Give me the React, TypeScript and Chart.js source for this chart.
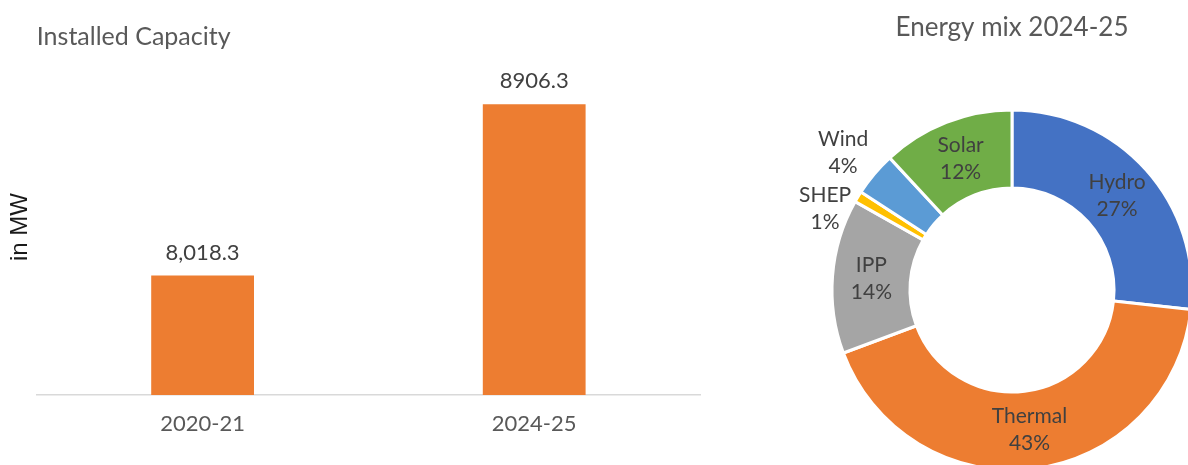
import { useEffect, useRef } from "react"
import { Chart, registerables, type ChartConfiguration, type Plugin } from "chart.js"

Chart.register(...registerables)

// Installed capacity (MW)
const years = ["2020-21", "2024-25"]
const capacityMW = [8018.3, 8906.3]
const capacityLabels = ["8,018.3", "8906.3"]

// Energy mix 2024-25 (%)
const sources = ["Hydro", "Thermal", "IPP", "SHEP", "Wind", "Solar"]
const sharePct = [27, 43, 14, 1, 4, 12]
const sourceColors = ["#4472C4", "#ED7D31", "#A5A5A5", "#FFC000", "#5B9BD5", "#70AD47"]

const FONT = "Lato, 'Open Sans', sans-serif"
const TEXT_GREY = "#595959"
const LABEL_GREY = "#404040"

// value labels above the bars
const barValueLabels: Plugin<"bar"> = {
  id: "barValueLabels",
  afterDatasetsDraw(chart) {
    const { ctx } = chart
    const meta = chart.getDatasetMeta(0)
    ctx.save()
    ctx.font = `22px ${FONT}`
    ctx.fillStyle = LABEL_GREY
    ctx.textAlign = "center"
    ctx.textBaseline = "middle"
    meta.data.forEach((bar, i) => {
      ctx.fillText(capacityLabels[i], bar.x, bar.y - 23)
    })
    ctx.restore()
  },
}

// category + percent labels on the doughnut (small slices go outside)
const sliceLabels: Plugin<"doughnut"> = {
  id: "sliceLabels",
  afterDatasetsDraw(chart) {
    const { ctx } = chart
    const meta = chart.getDatasetMeta(0)
    const lineH = 27
    const outside: { x: number; y: number; lines: string[] }[] = []
    ctx.save()
    ctx.font = `21px ${FONT}`
    ctx.fillStyle = LABEL_GREY
    ctx.textBaseline = "middle"
    ctx.textAlign = "center"
    meta.data.forEach((el, i) => {
      const { x, y, startAngle, endAngle, innerRadius, outerRadius } = (el as any).getProps(
        ["x", "y", "startAngle", "endAngle", "innerRadius", "outerRadius"],
        true
      )
      const mid = (startAngle + endAngle) / 2
      const lines = [sources[i], `${sharePct[i]}%`]
      if (sharePct[i] >= 10) {
        const r = (innerRadius + outerRadius) / 2
        const cx = x + Math.cos(mid) * r
        const cy = y + Math.sin(mid) * r
        ctx.fillText(lines[0], cx, cy - lineH / 2)
        ctx.fillText(lines[1], cx, cy + lineH / 2)
      } else {
        const r = outerRadius + 8
        outside.push({ x: x + Math.cos(mid) * r, y: y + Math.sin(mid) * r, lines })
      }
    })

    // push overlapping outside labels apart
    outside.sort((a, b) => a.y - b.y)
    const minGap = 56
    for (let k = 1; k < outside.length; k++) {
      const a = outside[k - 1]
      const b = outside[k]
      const overlap = minGap - (b.y - a.y)
      if (overlap > 0) {
        a.y -= overlap / 2
        b.y += overlap / 2
      }
    }

    outside.forEach((lab) => {
      const w = Math.max(...lab.lines.map((t) => ctx.measureText(t).width))
      const cx = lab.x - w / 2
      ctx.fillText(lab.lines[0], cx, lab.y - lineH / 2)
      ctx.fillText(lab.lines[1], cx, lab.y + lineH / 2)
    })
    ctx.restore()
  },
}

const CapacityChart = () => {
  const canvasRef = useRef<HTMLCanvasElement>(null)

  useEffect(() => {
    if (!canvasRef.current) return

    const config: ChartConfiguration<"bar"> = {
      type: "bar",
      data: {
        labels: years,
        datasets: [
          {
            data: capacityMW,
            backgroundColor: "#ED7D31",
            categoryPercentage: 1,
            barPercentage: 0.31,
          },
        ],
      },
      options: {
        responsive: false,
        animation: false,
        layout: { padding: { left: 0, right: 20, top: 0, bottom: 11.6 } },
        scales: {
          x: {
            grid: { display: false, drawTicks: false },
            border: { color: "#D9D9D9", width: 1.5 },
            ticks: { color: TEXT_GREY, font: { family: FONT, size: 22 }, padding: 16 },
          },
          y: {
            min: 7400,
            max: 9140,
            grid: { display: false, drawTicks: false },
            border: { display: false },
            ticks: { display: false },
            title: {
              display: true,
              text: "in MW",
              color: "#1a1a1a",
              font: { family: "'Liberation Sans', Arial, sans-serif", size: 24 },
              padding: { top: 6, bottom: 2 },
            },
          },
        },
        plugins: {
          legend: { display: false },
          tooltip: { enabled: false },
          title: {
            display: true,
            text: "Installed Capacity",
            align: "start",
            fullSize: false,
            color: TEXT_GREY,
            font: { family: FONT, size: 25, weight: "normal" },
            padding: { top: 22, bottom: 7 },
          },
        },
      },
      plugins: [barValueLabels],
    }

    const chart = new Chart(canvasRef.current, config)
    return () => chart.destroy()
  }, [])

  return (
    <canvas
      ref={canvasRef}
      width={720}
      height={465}
      style={{ position: "absolute", left: 0, top: 0, width: 720, height: 465 }}
    />
  )
}

const MixChart = () => {
  const canvasRef = useRef<HTMLCanvasElement>(null)

  useEffect(() => {
    if (!canvasRef.current) return

    const config: ChartConfiguration<"doughnut"> = {
      type: "doughnut",
      data: {
        labels: sources,
        datasets: [
          {
            data: sharePct,
            backgroundColor: sourceColors,
            borderColor: "#ffffff",
            borderWidth: 3,
          },
        ],
      },
      options: {
        responsive: false,
        animation: false,
        radius: 180,
        cutout: "56.7%",
        layout: { padding: { bottom: 43.2 } },
        plugins: {
          legend: { display: false },
          tooltip: { enabled: false },
          title: {
            display: true,
            text: "Energy mix 2024-25",
            color: TEXT_GREY,
            font: { family: FONT, size: 26, weight: "normal" },
            padding: { top: 12, bottom: 0 },
          },
        },
      },
      plugins: [sliceLabels],
    }

    const chart = new Chart(canvasRef.current, config)
    return () => chart.destroy()
  }, [])

  return (
    <canvas
      ref={canvasRef}
      width={500}
      height={580}
      style={{ position: "absolute", left: 762, top: 0, width: 500, height: 580 }}
    />
  )
}

export default function App() {
  return (
    <div
      style={{
        position: "fixed",
        left: 0,
        top: 0,
        width: 1188,
        height: 465,
        overflow: "hidden",
        background: "#ffffff",
      }}
    >
      <CapacityChart />
      <MixChart />
    </div>
  )
}
